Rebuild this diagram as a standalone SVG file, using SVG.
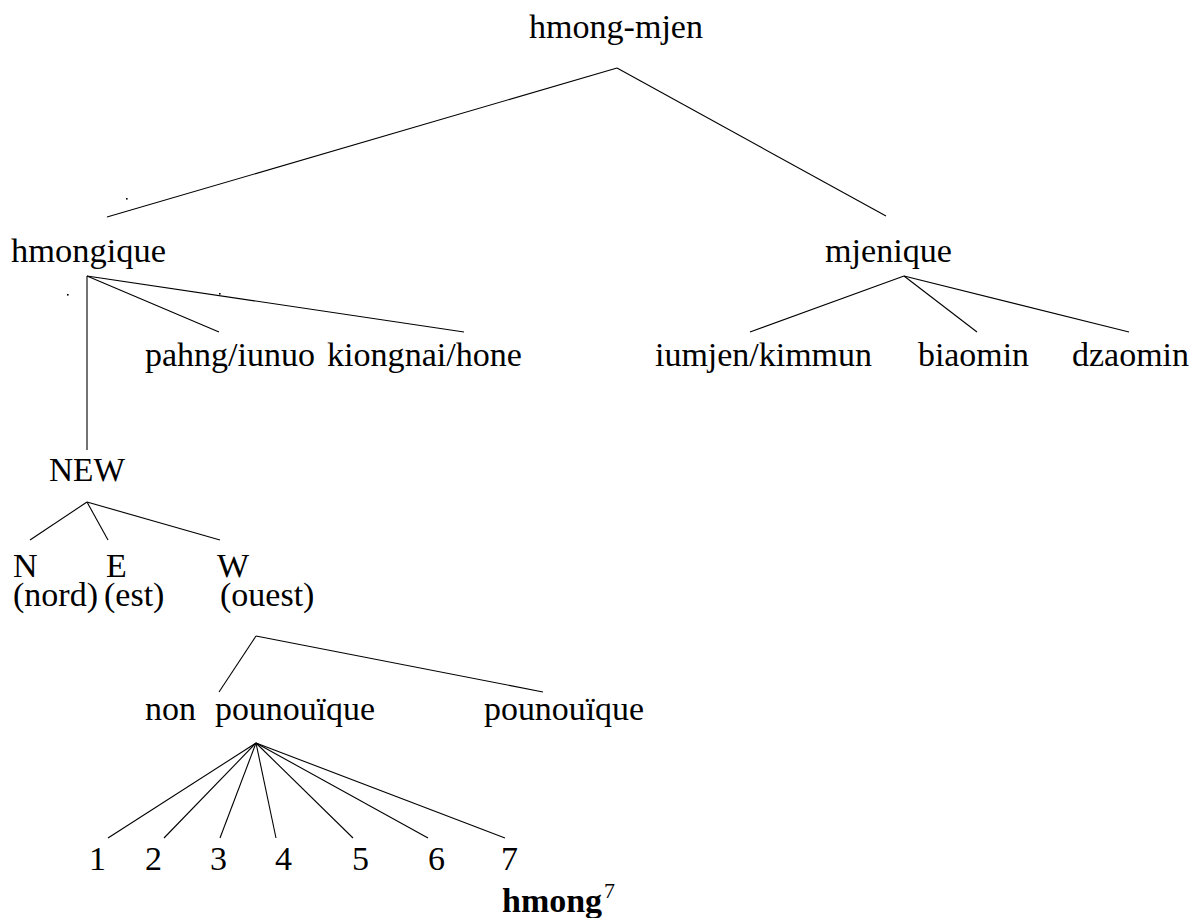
<svg xmlns="http://www.w3.org/2000/svg" width="1197" height="918" viewBox="0 0 1197 918">
<style>
text{font-family:"Liberation Serif","Tinos","Noto Serif","DejaVu Serif",serif;font-size:34px;fill:#000}
.b{font-weight:bold}
.sup{font-size:22px}
line{stroke:#000;stroke-width:1.1}
.dot{fill:#000}
</style>
<rect width="1197" height="918" fill="#fff"/>
<g id="connectors">
<line x1="617" y1="68" x2="107" y2="217"/>
<line x1="617" y1="68" x2="886" y2="216"/>
<line x1="87" y1="276" x2="87" y2="450"/>
<line x1="87" y1="276" x2="219" y2="332"/>
<line x1="87" y1="276" x2="464" y2="332"/>
<line x1="904" y1="276" x2="750" y2="332"/>
<line x1="904" y1="276" x2="977" y2="332"/>
<line x1="904" y1="276" x2="1129" y2="332"/>
<line x1="87" y1="502" x2="30" y2="540"/>
<line x1="87" y1="502" x2="108" y2="540"/>
<line x1="87" y1="502" x2="220" y2="540"/>
<line x1="256" y1="636" x2="219" y2="692"/>
<line x1="256" y1="636" x2="543" y2="692"/>
<line x1="256" y1="743" x2="108" y2="838"/>
<line x1="256" y1="743" x2="164" y2="838"/>
<line x1="256" y1="743" x2="220" y2="838"/>
<line x1="256" y1="743" x2="276" y2="838"/>
<line x1="256" y1="743" x2="353" y2="838"/>
<line x1="256" y1="743" x2="428" y2="838"/>
<line x1="256" y1="743" x2="505" y2="838"/>
</g>
<g id="dots">
<rect class="dot" x="126" y="198" width="1.6" height="1.6"/>
<rect class="dot" x="67" y="294" width="1.6" height="1.6"/>
<rect class="dot" x="219" y="293" width="1.6" height="1.6"/>
</g>
<g id="n-root"><text x="529" y="38" textLength="174" lengthAdjust="spacingAndGlyphs">hmong-mjen</text></g>
<g id="n-hmongique"><text x="11" y="262" textLength="155" lengthAdjust="spacingAndGlyphs">hmongique</text></g>
<g id="n-mjenique"><text x="825" y="262" textLength="127" lengthAdjust="spacingAndGlyphs">mjenique</text></g>
<g id="n-pahng"><text x="145" y="366" textLength="170" lengthAdjust="spacingAndGlyphs">pahng/iunuo</text></g>
<g id="n-kiongnai"><text x="327" y="366" textLength="195" lengthAdjust="spacingAndGlyphs">kiongnai/hone</text></g>
<g id="n-iumjen"><text x="655" y="366" textLength="217" lengthAdjust="spacingAndGlyphs">iumjen/kimmun</text></g>
<g id="n-biaomin"><text x="918" y="366" textLength="111" lengthAdjust="spacingAndGlyphs">biaomin</text></g>
<g id="n-dzaomin"><text x="1072" y="366" textLength="117" lengthAdjust="spacingAndGlyphs">dzaomin</text></g>
<g id="n-new"><text x="49" y="481" textLength="76" lengthAdjust="spacingAndGlyphs">NEW</text></g>
<g id="n-n"><text><tspan x="13" y="577">N</tspan><tspan x="13" y="606">(nord)</tspan></text></g>
<g id="n-e"><text><tspan x="106" y="577">E</tspan><tspan x="104" y="606">(est)</tspan></text></g>
<g id="n-w"><text><tspan x="217" y="577">W</tspan><tspan x="220" y="606">(ouest)</tspan></text></g>
<g id="n-nonpounouique"><text x="145" y="720" textLength="51" lengthAdjust="spacingAndGlyphs">non</text><text x="215" y="720" textLength="160" lengthAdjust="spacingAndGlyphs">pounouïque</text></g>
<g id="n-pounouique"><text x="484" y="720" textLength="160" lengthAdjust="spacingAndGlyphs">pounouïque</text></g>
<g id="n-1"><text x="89" y="870">1</text></g>
<g id="n-2"><text x="145" y="870">2</text></g>
<g id="n-3"><text x="210" y="870">3</text></g>
<g id="n-4"><text x="275" y="870">4</text></g>
<g id="n-5"><text x="352" y="870">5</text></g>
<g id="n-6"><text x="428" y="870">6</text></g>
<g id="n-7"><text x="501" y="870">7</text></g>
<g id="caption"><text class="b" x="502" y="912" textLength="100" lengthAdjust="spacingAndGlyphs">hmong</text><text class="sup" x="604" y="898">7</text></g>
</svg>
